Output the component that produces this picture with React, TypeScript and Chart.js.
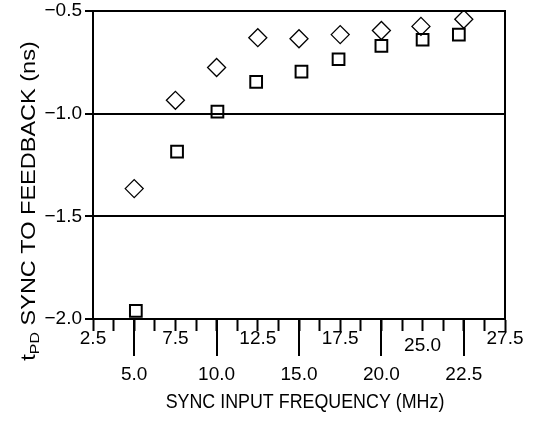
import React, { useEffect, useRef } from "react";
import { Chart, registerables } from "chart.js";

Chart.register(...registerables);

// ---- data ----
const diamondX = [5, 7.5, 10, 12.5, 15, 17.5, 20, 22.4, 25];
const diamondY = [-1.365, -0.935, -0.775, -0.63, -0.635, -0.615, -0.595, -0.575, -0.54];
const squareX = [5.1, 7.6, 10.05, 12.4, 15.15, 17.4, 20, 22.5, 24.7];
const squareY = [-1.96, -1.185, -0.99, -0.845, -0.795, -0.735, -0.67, -0.64, -0.615];

const upperTickLabels = ["2.5", "7.5", "12.5", "17.5", "25.0", "27.5"];
const lowerTickLabels = ["5.0", "10.0", "15.0", "20.0", "22.5"];

const xTitle = "SYNC INPUT FREQUENCY (MHz)";
const yTitleMain = "t";
const yTitleSub = "PD";
const yTitleRest = " SYNC TO FEEDBACK (ns)";

const FONT = "'Liberation Sans', Arial, sans-serif";

const toPoints = (xs: number[], ys: number[]) => xs.map((x, i) => ({ x, y: ys[i] }));

const extrasPlugin = {
  id: "extras",
  beforeDatasetsDraw(chart: any) {
    const { ctx, chartArea } = chart;
    ctx.save();
    ctx.strokeStyle = "#000";
    ctx.lineWidth = 2;
    ctx.strokeRect(chartArea.left, chartArea.top, chartArea.right - chartArea.left, chartArea.bottom - chartArea.top);
    ctx.restore();
  },
  afterDraw(chart: any) {
    const { ctx, chartArea } = chart;
    const xs = chart.scales.x;
    ctx.save();
    ctx.strokeStyle = "#000";
    ctx.lineWidth = 2;
    xs.ticks.forEach((_t: any, i: number) => {
      if (i % 4 === 2) {
        const px = Math.round(xs.getPixelForTick(i));
        ctx.beginPath();
        ctx.moveTo(px, chartArea.bottom);
        ctx.lineTo(px, chartArea.bottom + 37);
        ctx.stroke();
      }
    });
    ctx.restore();

    // x title (slightly condensed lettering like the reference)
    ctx.save();
    ctx.fillStyle = "#000";
    ctx.font = `21px ${FONT}`;
    ctx.textAlign = "center";
    ctx.textBaseline = "middle";
    ctx.translate(305, 402);
    ctx.scale(0.85, 1);
    ctx.fillText(xTitle, 0, 0);
    ctx.restore();

    // y title with subscript
    ctx.save();
    ctx.fillStyle = "#000";
    const mainFont = `23.5px ${FONT}`;
    const subFont = `16px ${FONT}`;
    ctx.font = mainFont;
    const wT = ctx.measureText(yTitleMain).width;
    const wR = ctx.measureText(yTitleRest).width;
    ctx.font = subFont;
    const wS = ctx.measureText(yTitleSub).width;
    const total = wT + wS + wR;
    ctx.translate(35, 201 + total / 2);
    ctx.rotate(-Math.PI / 2);
    ctx.scale(1, 0.85);
    ctx.textAlign = "left";
    ctx.textBaseline = "alphabetic";
    ctx.font = mainFont;
    ctx.fillText(yTitleMain, 0, 0);
    ctx.font = subFont;
    ctx.fillText(yTitleSub, wT, 5);
    ctx.font = mainFont;
    ctx.fillText(yTitleRest, wT + wS, 0);
    ctx.restore();
  },
};

export default function App() {
  const ref = useRef<HTMLCanvasElement>(null);
  useEffect(() => {
    if (!ref.current) return;
    const chart = new Chart(ref.current, {
      type: "scatter",
      data: {
        datasets: [
          {
            label: "diamond",
            data: toPoints(diamondX, diamondY),
            pointStyle: "rectRot",
            pointRadius: 9,
            borderWidth: 1.3,
            borderColor: "#000",
            backgroundColor: "rgba(0,0,0,0)",
          },
          {
            label: "square",
            data: toPoints(squareX, squareY),
            pointStyle: "rect",
            pointRadius: 8.3,
            borderWidth: 2,
            borderColor: "#000",
            backgroundColor: "rgba(0,0,0,0)",
          },
        ],
      },
      options: {
        responsive: false,
        animation: false,
        layout: { padding: { left: 0, top: 11, right: 29, bottom: 0 } },
        plugins: { legend: { display: false }, tooltip: { enabled: false } },
        scales: {
          x: {
            type: "linear",
            min: 2.5,
            max: 27.5,
            afterFit: (s: any) => {
              s.height = 102;
            },
            border: { display: true, color: "#000", width: 2 },
            grid: { drawOnChartArea: false, tickLength: 12, tickWidth: 2, tickColor: "#000" },
            ticks: {
              stepSize: 1.25,
              autoSkip: false,
              maxRotation: 0,
              padding: 0,
              color: "#000",
              font: (c: any) => {
                const i = c.index;
                let lh = "16px";
                if (i % 4 === 2) lh = "88px";
                else if (i === 16) lh = "29px";
                return { family: FONT, size: 19, lineHeight: lh };
              },
              callback: (_v: any, i: number) => {
                if (i % 4 === 0) return upperTickLabels[i / 4] ?? "";
                if (i % 4 === 2) return lowerTickLabels[(i - 2) / 4] ?? "";
                return "";
              },
            },
          },
          y: {
            type: "linear",
            min: -2,
            max: -0.5,
            afterFit: (s: any) => {
              s.width = 93;
            },
            border: { display: true, color: "#000", width: 2 },
            grid: { color: "#000", lineWidth: 2, tickLength: 8, tickWidth: 2, tickColor: "#000" },
            ticks: {
              stepSize: 0.5,
              padding: 3,
              color: "#000",
              font: { family: FONT, size: 19, lineHeight: "16px" },
              callback: (v: any) => Number(v).toFixed(1).replace("-", "\u2212"),
            },
          },
        },
      },
      plugins: [extrasPlugin],
    });
    return () => chart.destroy();
  }, []);
  return (
    <div style={{ position: "absolute", left: 0, top: 0, width: 534, height: 421, background: "#fff" }}>
      <canvas ref={ref} width={534} height={421} />
    </div>
  );
}
